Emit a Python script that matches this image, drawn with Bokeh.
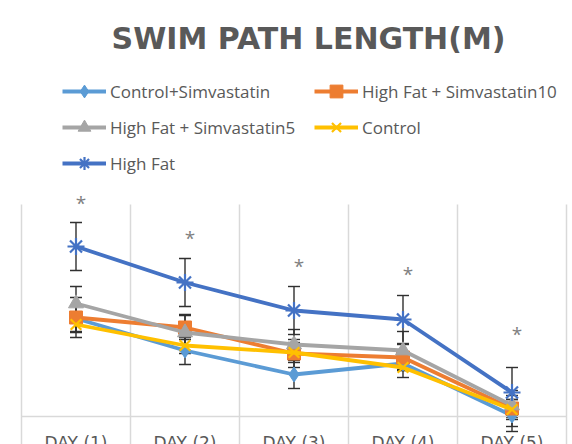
import numpy as np
from bokeh.plotting import figure
from bokeh.models import Range1d, Whisker, TeeHead, ColumnDataSource, Legend, LegendItem, Label
from bokeh.core.properties import value
from bokeh.embed import file_html
from bokeh.resources import INLINE

# ---------------- data ----------------
days = ["DAY (1)", "DAY (2)", "DAY (3)", "DAY (4)", "DAY (5)"]
series_names = ["Control+Simvastatin", "High Fat + Simvastatin10",
                "High Fat + Simvastatin5", "Control", "High Fat"]
ctrl_simva = [9.8, 6.6, 4.2, 5.3, 0.1]
ctrl_simva_err = [1.3, 1.4, 1.4, 0.7, 1.6]
hf_simva10 = [9.9, 8.9, 6.3, 5.9, 0.8]
hf_simva10_err = [2.0, 1.2, 1.4, 1.3, 1.8]
hf_simva5 = [11.3, 8.4, 7.2, 6.6, 1.1]
hf_simva5_err = [1.7, 1.8, 1.5, 1.9, 1.0]
control = [9.2, 7.1, 6.4, 4.9, 0.7]
control_err = [0.8, 0.8, 1.0, 1.0, 1.0]
high_fat = [17.0, 13.4, 10.6, 9.7, 2.4]
high_fat_err = [2.4, 2.4, 2.4, 2.4, 2.5]
sig_level = [21.9, 18.4, 15.6, 14.8, 8.8]
sig_marks = ["*", "*", "*", "*", "*"]

title_text = "SWIM PATH LENGTH(M)"

colors = ["#5B9BD5", "#ED7D31", "#A5A5A5", "#FFC000", "#4472C4"]
markers = ["diamond", "square", "triangle", "x", "asterisk"]
msizes = [15, 13, 15, 15, 17]
values_list = [ctrl_simva, hf_simva10, hf_simva5, control, high_fat]
errs_list = [ctrl_simva_err, hf_simva10_err, hf_simva5_err, control_err, high_fat_err]

n = len(days)
xc = np.arange(n) + 0.5

p = figure(width=572, height=444, output_backend="svg", toolbar_location=None,
           x_range=Range1d(-21 / 109, n + 6 / 109), y_range=Range1d(-2.8, 41.6),
           min_border=0, min_border_left=0, min_border_right=0,
           min_border_top=0, min_border_bottom=0)
p.axis.visible = False
p.grid.visible = False
p.outline_line_color = None
p.background_fill_color = "white"
p.border_fill_color = "white"

grid_col = "#D9D9D9"
# category separators (vertical gridlines) and the category axis line
bounds = np.arange(n + 1)
p.segment(x0=bounds, x1=bounds, y0=[-2.8] * (n + 1), y1=[21.2] * (n + 1),
          line_color=grid_col, line_width=1.5)
p.segment(x0=[0], x1=[n], y0=[0], y1=[0], line_color=grid_col, line_width=1.5)

# error bars
for vals, errs in zip(values_list, errs_list):
    v = np.array(vals); e = np.array(errs)
    src = ColumnDataSource(dict(x=xc, upper=v + e, lower=v - e))
    w = Whisker(source=src, base="x", upper="upper", lower="lower",
                line_color="#303030", line_width=1.4,
                upper_head=TeeHead(size=12, line_color="#303030", line_width=1.4),
                lower_head=TeeHead(size=12, line_color="#303030", line_width=1.4),
                level="underlay")
    p.add_layout(w)

items = []
for name, vals, col, mk, ms in zip(series_names, values_list, colors, markers, msizes):
    ln = p.line(xc, vals, line_color=col, line_width=3.8)
    if mk in ("x", "asterisk"):
        sc = p.scatter(xc, vals, marker=mk, size=ms, line_color=col, line_width=2.2)
    else:
        sc = p.scatter(xc, vals, marker=mk, size=ms, fill_color=col, line_color=col)
    items.append(LegendItem(label=name, renderers=[ln, sc]))

# significance asterisks
p.text(x=xc, y=sig_level, text=sig_marks, text_font=value("Open Sans"),
       text_font_size="19px", text_color="#7F7F7F", text_align="center",
       text_baseline="middle", x_offset=5, y_offset=5)

# category labels
p.text(x=xc, y=[-2.6] * n, text=days, text_font=value("DejaVu Sans"),
       text_font_size="17px", text_color="#595959", text_align="center",
       text_baseline="middle")

legend = Legend(items=items, location=(62, 265), orientation="horizontal", ncols=2,
                label_text_font="Open Sans", label_text_font_size="17px",
                label_text_color="#595959", glyph_width=44, glyph_height=32,
                label_height=32, label_width=200, label_standoff=4, spacing=4,
                padding=0, border_line_color=None, background_fill_alpha=0)
p.add_layout(legend)

p.add_layout(Label(x=(308 - 21) / 109, y=37.8, text=title_text, text_align="center",
                   text_baseline="middle", text_font="DejaVu Sans",
                   text_font_style="bold", text_font_size="30px",
                   text_color="#595959"))

open("out.html", "w").write(file_html(p, INLINE))
